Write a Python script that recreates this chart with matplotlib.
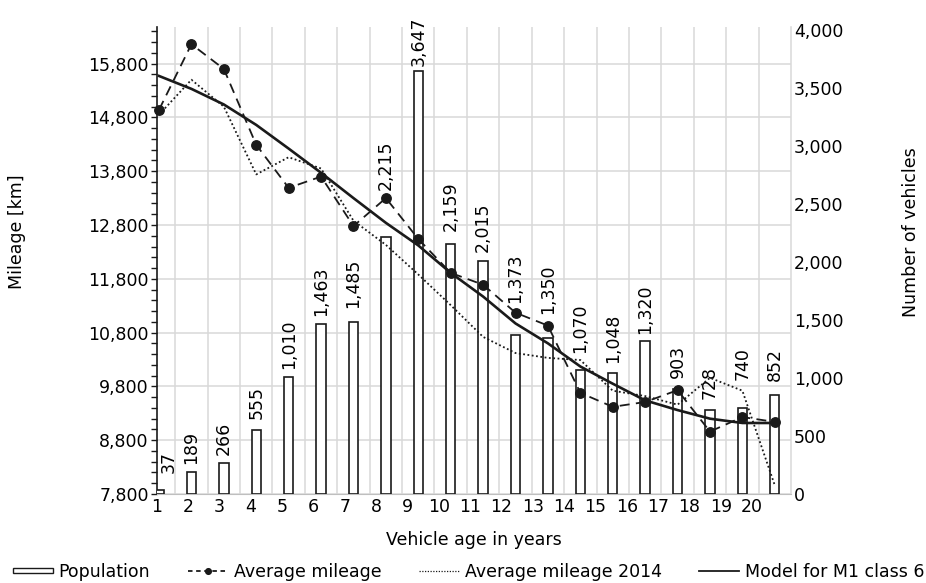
import numpy as np
import matplotlib.pyplot as plt
from matplotlib.ticker import FixedLocator, FuncFormatter, MultipleLocator
from matplotlib.patches import Rectangle
from matplotlib.lines import Line2D
from matplotlib.legend_handler import HandlerPatch

plt.rcParams['font.family'] = 'DejaVu Sans'
plt.rcParams['font.size'] = 12.5

# vehicle age (years) and the per-age values
age = np.arange(1, 21)
population = [37, 189, 266, 555, 1010, 1463, 1485, 2215, 3647, 2159,
              2015, 1373, 1350, 1070, 1048, 1320, 903, 728, 740, 852]
avg_mileage = [14940, 16160, 15700, 14290, 13490, 13700, 12780, 13300, 12540, 11910,
               11690, 11170, 10930, 9680, 9420, 9510, 9730, 8960, 9230, 9140]
avg_mileage_2014 = [14850, 15500, 15000, 13740, 14060, 13850, 12880, 12430, 11880, 11310,
                    10720, 10420, 10330, 10290, 9720, 9620, 9460, 9960, 9720, 7960]
model_m1 = [15570, 15330, 15040, 14660, 14220, 13770, 13300, 12840, 12420, 11910,
            11470, 10970, 10600, 10170, 9850, 9540, 9360, 9200, 9120, 9120]
age_labels = [str(a) for a in range(1, 21)]

# how far each value label sits above its bar (points), nudged clear of the curves
label_lift = [12, 6, 6, 8, 6, 6, 10, 34, 4, 9, 6, 23, 17, 12, 7, 5, 8, 8, 20, 10]

GRID = '#d9d9d9'
INK = '#1a1a1a'

fig = plt.figure(figsize=(9.26, 5.83), dpi=100)
ax = fig.add_axes([157 / 926, 1 - 494 / 583, 634 / 926, 467 / 583])
ax_bar = ax.twinx()
ax_line = ax.twinx()

# mileage axis: carries the grid and the left scale
ax.set_xlim(1, 20.5)
ax.set_ylim(7800, 16480)
ax.yaxis.set_major_locator(FixedLocator(np.arange(7800, 16000, 1000)))
ax.yaxis.set_minor_locator(FixedLocator(np.arange(7800, 16480, 200)))
ax.yaxis.set_major_formatter(FuncFormatter(lambda v, p: f'{int(v):,}'))
ax.tick_params(axis='y', which='both', length=4, width=1, color=INK, pad=2)
ax.set_xticks([0.938 + 0.9665 * i for i in range(len(age_labels))])
ax.set_xticklabels(age_labels)
ax.set_xticks(np.arange(1.5, 20.5, 1), minor=True)
ax.tick_params(axis='x', which='both', length=0, pad=3)
ax.grid(axis='y', which='major', color=GRID, lw=1.1)
ax.grid(axis='x', which='minor', color=GRID, lw=1.1)
ax.set_axisbelow(True)
ax.spines['top'].set_visible(False)
ax.spines['right'].set_color(GRID)
ax.spines['right'].set_linewidth(1.1)
ax.spines['bottom'].set_color('#bfbfbf')
ax.spines['left'].set_color(INK)
ax.spines['left'].set_linewidth(1.2)
ax.set_ylabel('Mileage [km]', va='center')
ax.yaxis.set_label_coords(-0.221, 0.561)
ax.set_xlabel('Vehicle age in years', va='center')
ax.xaxis.set_label_coords(0.5, -0.0985)

# population bars on the right scale
ax_bar.bar(age, population, width=0.29, color='white', edgecolor=INK, lw=1.2)
for i, (a, v) in enumerate(zip(age, population)):
    dx = 7 if i == 0 else 0
    ax_bar.annotate(f'{v:,}', (a, v), xytext=(dx, label_lift[i]), textcoords='offset points',
                    rotation=90, ha='center', va='bottom')
ax_bar.set_ylim(0, 4030)
ax_bar.yaxis.set_major_locator(MultipleLocator(500))
ax_bar.yaxis.set_major_formatter(FuncFormatter(lambda v, p: f'{int(v):,}'))
ax_bar.tick_params(axis='y', length=0, pad=2)
for s in ax_bar.spines.values():
    s.set_visible(False)
ax_bar.set_ylabel('Number of vehicles', va='center')
ax_bar.yaxis.set_label_coords(1.189, 0.561)

# mileage curves drawn above the bars
ax_line.set_ylim(ax.get_ylim())
ax_line.yaxis.set_visible(False)
for s in ax_line.spines.values():
    s.set_visible(False)
ax_line.plot(age, avg_mileage_2014, color=INK, lw=1.3, ls=(0, (1, 1.4)), clip_on=False)
ax_line.plot(age, model_m1, color=INK, lw=1.9, clip_on=False)
ax_line.plot(age, avg_mileage, color=INK, lw=1.3, dashes=(5.5, 3.5), marker='o', ms=6.8,
             clip_on=False)


def thin_box(legend, orig_handle, xdescent, ydescent, width, height, fontsize):
    return Rectangle((-xdescent, -ydescent + height * 0.3), width, height * 0.4)


handles = [
    Rectangle((0, 0), 1, 1, facecolor='white', edgecolor=INK, lw=1),
    Line2D([], [], color=INK, lw=1.3, dashes=(2.5, 2), marker='o', ms=6.8),
    Line2D([], [], color=INK, lw=0.9, ls=(0, (1, 1.2))),
    Line2D([], [], color=INK, lw=1.3),
]
labels = ['Population', 'Average mileage', 'Average mileage 2014', 'Model for M1 class 6']
fig.legend(handles, labels, loc='center', bbox_to_anchor=(0.506, 0.019), ncol=4,
           frameon=False, handlelength=2.3, handletextpad=0.35, columnspacing=2.15,
           borderpad=0, markerscale=0.6,
           handler_map={Rectangle: HandlerPatch(patch_func=thin_box)})

fig.savefig('out.png', dpi=100)
